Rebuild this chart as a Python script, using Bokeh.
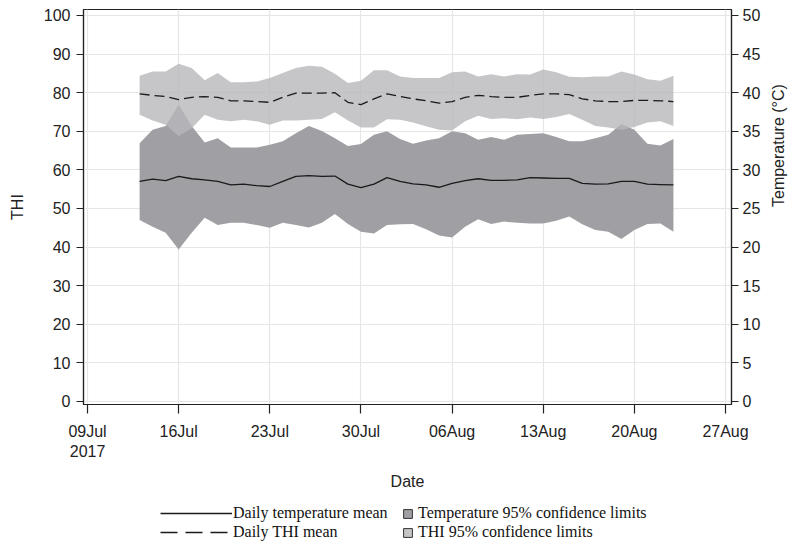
import math
import pandas as pd
from bokeh.plotting import figure
from bokeh.layouts import column
from bokeh.models import (Range1d, LinearAxis, FixedTicker, Legend, LegendItem,
                          ColumnDataSource)
from bokeh.embed import file_html
from bokeh.resources import INLINE

# ---------------- data ----------------
start_date = pd.Timestamp("2017-07-09")
dates = pd.date_range("2017-07-13", "2017-08-23", freq="D")

thi_upper = [84.4, 85.5, 85.5, 87.5, 86.4, 83.2, 85.1, 82.7, 82.7, 82.9, 83.8, 85.1,
             86.4, 87.0, 86.7, 84.9, 82.5, 83.1, 85.8, 85.8, 84.2, 83.8, 83.8, 83.8,
             85.3, 85.5, 84.2, 84.8, 84.2, 84.8, 84.7, 86.0, 85.3, 84.1, 84.0, 84.2,
             84.2, 85.5, 84.7, 83.5, 83.1, 84.4]
thi_mean = [79.7, 79.3, 79.0, 78.2, 78.8, 79.0, 78.8, 77.9, 77.9, 77.7, 77.5, 78.8,
            79.9, 79.9, 79.9, 80.0, 77.5, 76.9, 78.4, 79.7, 79.0, 78.4, 77.9, 77.3,
            77.7, 78.8, 79.3, 79.0, 78.8, 78.8, 79.3, 79.7, 79.7, 79.5, 78.4, 77.9,
            77.7, 77.7, 78.0, 78.0, 77.9, 77.7]
thi_lower = [74.3, 72.8, 71.7, 68.8, 70.8, 74.3, 73.0, 72.6, 73.0, 72.6, 71.7, 72.8,
             72.8, 73.0, 73.2, 74.9, 72.8, 71.0, 71.0, 73.1, 73.0, 72.3, 71.3, 70.4,
             70.2, 72.6, 74.0, 73.2, 73.4, 73.1, 73.6, 73.2, 73.7, 74.5, 73.0, 71.4,
             71.0, 70.4, 71.1, 72.3, 72.6, 71.4]

temp_upper = [33.45, 35.2, 35.7, 38.45, 35.7, 33.55, 34.1, 32.9, 32.9, 32.9, 33.25, 33.7,
              34.75, 35.7, 35.05, 34.1, 33.1, 33.35, 34.55, 35.0, 34.0, 33.4, 33.8, 34.1,
              35.0, 34.75, 33.9, 34.25, 33.9, 34.55, 34.65, 34.75, 34.25, 33.7, 33.7, 34.1,
              34.55, 35.95, 35.2, 33.4, 33.15, 34.0]
temp_mean = [28.5, 28.8, 28.6, 29.15, 28.85, 28.7, 28.5, 28.05, 28.15, 27.95, 27.85, 28.5,
             29.15, 29.25, 29.15, 29.2, 28.15, 27.7, 28.15, 29.0, 28.5, 28.2, 28.05, 27.75,
             28.25, 28.6, 28.85, 28.65, 28.65, 28.7, 29.0, 28.95, 28.9, 28.9, 28.25, 28.15,
             28.2, 28.5, 28.5, 28.15, 28.1, 28.05]
temp_lower = [23.5, 22.65, 21.85, 19.7, 21.85, 23.8, 22.85, 23.15, 23.15, 22.85, 22.5, 23.15,
              22.85, 22.55, 23.15, 24.3, 23.0, 22.0, 21.75, 22.85, 22.95, 23.0, 22.3, 21.5,
              21.25, 22.65, 23.6, 23.0, 23.3, 23.15, 23.05, 23.05, 23.4, 23.95, 22.95, 22.2,
              22.0, 21.05, 22.2, 23.0, 23.05, 22.0]

tick_days = [0, 7, 14, 21, 28, 35, 42, 49]
tick_labels = ["09Jul\n2017", "16Jul", "23Jul", "30Jul", "06Aug", "13Aug", "20Aug", "27Aug"]
thi_ticks = [0, 10, 20, 30, 40, 50, 60, 70, 80, 90, 100]
temp_ticks = [0, 5, 10, 15, 20, 25, 30, 35, 40, 45, 50]

legend_lines = ["Daily temperature mean", "Daily THI mean"]
legend_areas = ["Temperature 95% confidence limits", "THI 95% confidence limits"]

# ---------------- colours / fonts ----------------
AX = "#222222"
SANS = "Liberation Sans"
SERIF = "Liberation Serif"
DARK = "#a0a0a4"
LIGHT = "#b8b8bc"
LIGHT_ALPHA = 0.8

# ---------------- main figure ----------------
x_days = [(d - start_date).days for d in dates]
src = ColumnDataSource(dict(x=x_days, thi_u=thi_upper, thi_m=thi_mean, thi_l=thi_lower,
                            t_u=temp_upper, t_m=temp_mean, t_l=temp_lower))

y0, y1 = -0.78, 101.55
p = figure(width=799, height=495, output_backend="svg", toolbar_location=None,
           x_range=Range1d(-0.31, 49.46), y_range=Range1d(y0, y1),
           min_border_left=83, min_border_right=68, min_border_top=9, min_border_bottom=91,
           background_fill_color="white", border_fill_color="white")
p.extra_y_ranges = {"temp": Range1d(y0 / 2, y1 / 2)}

p.outline_line_color = AX
p.outline_line_width = 1.2

p.varea(x="x", y1="t_l", y2="t_u", source=src, y_range_name="temp",
        fill_color=DARK, fill_alpha=1.0)
p.varea(x="x", y1="thi_l", y2="thi_u", source=src,
        fill_color=LIGHT, fill_alpha=LIGHT_ALPHA)
p.line(x="x", y="t_m", source=src, y_range_name="temp",
       line_color="#1a1a1a", line_width=1.3)
p.line(x="x", y="thi_m", source=src, line_color="#1a1a1a",
       line_width=1.3, line_dash="10 5")

xa = p.xaxis[0]
xa.ticker = FixedTicker(ticks=tick_days)
xa.major_label_overrides = {d: l for d, l in zip(tick_days, tick_labels)}
xa.axis_label = "Date"

ya = p.yaxis[0]
ya.ticker = FixedTicker(ticks=thi_ticks)
ya.axis_label = "THI"

ra = LinearAxis(y_range_name="temp", ticker=FixedTicker(ticks=temp_ticks),
                axis_label="Temperature (°C)")
p.add_layout(ra, "right")

for ax in (xa, ya, ra):
    ax.axis_line_color = AX
    ax.axis_line_width = 1.2
    ax.major_tick_line_color = AX
    ax.major_tick_line_width = 1.2
    ax.major_tick_out = 7
    ax.major_tick_in = 0
    ax.minor_tick_line_color = None
    ax.major_label_text_font = SANS
    ax.major_label_text_font_size = "16px"
    ax.major_label_text_color = "#222222"
    ax.axis_label_text_font = SANS
    ax.axis_label_text_font_size = "16px"
    ax.axis_label_text_font_style = "normal"
    ax.axis_label_text_color = "#222222"

xa.major_tick_out = 9
xa.major_label_standoff = 9
xa.axis_label_standoff = 10
ya.major_label_standoff = 6
ya.axis_label_standoff = 15
ra.major_label_standoff = 4
ra.axis_label_standoff = 15
ra.axis_label_orientation = math.pi / 2

p.xgrid.ticker = FixedTicker(ticks=tick_days)
p.ygrid.ticker = FixedTicker(ticks=thi_ticks)
for g in (p.xgrid[0], p.ygrid[0]):
    g.grid_line_color = "#e6e6e6"
    g.grid_line_width = 1.2

# ---------------- legend strip ----------------
lf = figure(width=799, height=50, output_backend="svg", toolbar_location=None,
            x_range=Range1d(0, 1), y_range=Range1d(0, 1),
            x_axis_location=None, y_axis_location=None,
            min_border_left=83, min_border_right=68, min_border_top=0, min_border_bottom=0,
            background_fill_color="white", border_fill_color="white")
lf.outline_line_color = None
lf.xgrid.visible = False
lf.ygrid.visible = False

# legend-key glyphs (kept outside the visible range of this strip)
key = ColumnDataSource(dict(x=[-5, -4], y=[-5, -4]))
l_solid = lf.line(x="x", y="y", source=key, line_color="#1a1a1a", line_width=1.3)
l_dash = lf.line(x="x", y="y", source=key, line_color="#1a1a1a", line_width=1.3,
                 line_dash="17 8")
b_dark = lf.rect(x="x", y="y", width=1, height=1, source=key,
                 fill_color=DARK, line_color="#333333")
b_light = lf.rect(x="x", y="y", width=1, height=1, source=key,
                  fill_color="#c6c6c9", line_color="#333333")

common = dict(border_line_alpha=0, background_fill_alpha=0, padding=0, margin=0,
              spacing=1, label_height=18, label_text_font=SERIF,
              label_text_font_size="16px", label_text_color="#111111")
leg1 = Legend(items=[LegendItem(label=legend_lines[0], renderers=[l_solid]),
                     LegendItem(label=legend_lines[1], renderers=[l_dash])],
              location=(77, 4), glyph_width=72, glyph_height=14,
              label_standoff=1, **common)
leg2 = Legend(items=[LegendItem(label=legend_areas[0], renderers=[b_dark]),
                     LegendItem(label=legend_areas[1], renderers=[b_light])],
              location=(319, 4), glyph_width=11, glyph_height=11,
              label_standoff=5, **common)
lf.add_layout(leg1, "center")
lf.add_layout(leg2, "center")

layout = column(p, lf, spacing=0)
open("out.html", "w").write(file_html(layout, INLINE))
